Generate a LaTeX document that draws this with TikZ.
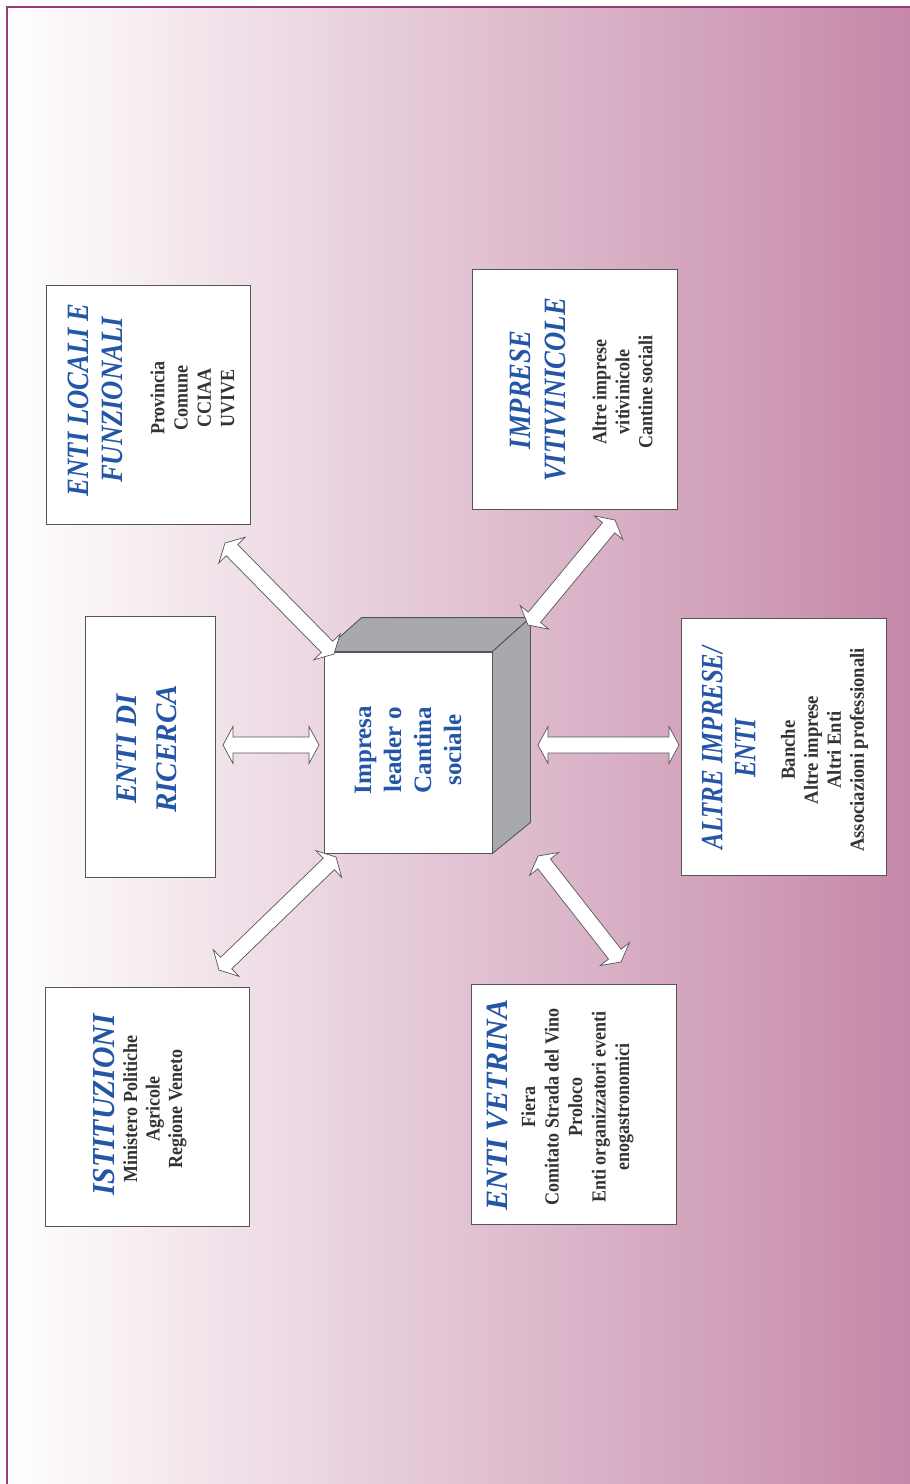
\documentclass[tikz,border=0pt]{standalone}
\usepackage{fontspec}
\setmainfont{Liberation Serif}
\newfontfamily\fA[FakeStretch=0.80]{Liberation Serif}
\newfontfamily\fB[FakeStretch=0.86]{Liberation Serif}
\newfontfamily\fC[FakeStretch=0.93]{Liberation Serif}
\newfontfamily\fD[FakeStretch=0.97]{Liberation Serif}
\newfontfamily\fE[FakeStretch=0.90]{Liberation Serif}
\usetikzlibrary{calc}
\definecolor{bgR}{HTML}{C588A8}
\definecolor{frameC}{HTML}{9B3B70}
\definecolor{titleB}{HTML}{2356A6}
\definecolor{bodyG}{HTML}{333333}
\definecolor{cubeG}{HTML}{A7A9AC}
\definecolor{edgeG}{HTML}{555555}
\tikzset{
  panel/.style={draw=edgeG, line width=0.9pt, fill=white, inner sep=0pt},
  ttl/.style={rotate=90, align=center, inner sep=0pt, text=titleB},
  bdy/.style={rotate=90, align=center, inner sep=0pt, text=bodyG},
  blockarrow/.style={draw=edgeG, fill=white, line width=0.7pt, line join=miter},
}
\newcommand{\dblarrow}[2]{%
  \coordinate (tmpA) at ($(#1)!10pt!(#2)$);
  \coordinate (tmpB) at ($(#2)!10pt!(#1)$);
  \draw[blockarrow] (#1) -- ($(tmpA)!18.5pt!90:(#2)$) -- ($(tmpA)!8pt!90:(#2)$)
    -- ($(tmpB)!8pt!-90:(#1)$) -- ($(tmpB)!18.5pt!-90:(#1)$) -- (#2)
    -- ($(tmpB)!18.5pt!90:(#1)$) -- ($(tmpB)!8pt!90:(#1)$)
    -- ($(tmpA)!8pt!-90:(#2)$) -- ($(tmpA)!18.5pt!-90:(#2)$) -- cycle;}
\begin{document}
\begin{tikzpicture}[x=1pt,y=-1pt]
\useasboundingbox (0,0) rectangle (910,1484);
\shade[left color=white, right color=bgR] (7,7) rectangle (910,1484);
\draw[frameC, line width=1.5pt] (7,1484) -- (7,7) -- (910,7);

% panels
\node (b1) [panel, minimum width=204pt, minimum height=239pt] at (148,404.5) {};
\node (b2) [panel, minimum width=130pt, minimum height=261pt] at (150,746.5) {};
\node (b3) [panel, minimum width=204pt, minimum height=239pt] at (147,1106.5) {};
\node (b4) [panel, minimum width=205pt, minimum height=240pt] at (574.5,389) {};
\node (b5) [panel, minimum width=205pt, minimum height=257pt] at (783.5,746.5) {};
\node (b6) [panel, minimum width=205pt, minimum height=240pt] at (573.5,1104) {};

% cube
\node (front) [panel, minimum width=168pt, minimum height=201pt] at (408,752.5) {};
\draw[draw=edgeG, line width=0.9pt, fill=cubeG] (front.north west) -- ($(front.north west)+(38,-34)$) -- ($(front.north east)+(38,-34)$) -- (front.north east) -- cycle;
\draw[draw=edgeG, line width=0.9pt, fill=cubeG] (front.north east) -- ($(front.north east)+(38,-34)$) -- ($(front.south east)+(38,-31)$) -- (front.south east) -- cycle;

% titles
\node (t1) [ttl, font=\fB\fontsize{31}{34}\selectfont\bfseries\itshape] at (95,400) {ENTI LOCALI E\\FUNZIONALI};
\node (t2) [ttl, font=\fD\fontsize{30}{40}\selectfont\bfseries\itshape] at (147,749) {ENTI DI\\RICERCA};
\node (t3) [ttl, font=\fC\fontsize{32}{34}\selectfont\bfseries\itshape] at (104,1105) {ISTITUZIONI};
\node (t4) [ttl, font=\fB\fontsize{31}{35}\selectfont\bfseries\itshape] at (537.5,390) {IMPRESE\\VITIVINICOLE};
\node (t5) [ttl, font=\fA\fontsize{31}{33}\selectfont\bfseries\itshape] at (728.5,748) {ALTRE IMPRESE/\\ENTI};
\node (t6) [ttl, font=\fD\fontsize{31}{34}\selectfont\bfseries\itshape] at (497.5,1105) {ENTI VETRINA};

% bodies
\node (d1) [bdy, font=\fE\fontsize{20}{23.3}\selectfont\bfseries] at (192.5,398) {Provincia\\Comune\\CCIAA\\UVIVE};
\node (d3) [bdy, font=\fE\fontsize{20}{22.5}\selectfont\bfseries] at (155,1109) {Ministero Politiche\\Agricole\\Regione Veneto};
\node (d4) [bdy, font=\fE\fontsize{20}{23}\selectfont\bfseries] at (622.5,392) {Altre imprese\\vitivinicole\\Cantine sociali};
\node (d5) [bdy, font=\fC\fontsize{20}{23}\selectfont\bfseries] at (824.5,750) {Banche\\Altre imprese\\Altri Enti\\Associazioni professionali};
\node (d6) [bdy, font=\fE\fontsize{20}{23.5}\selectfont\bfseries] at (577.5,1107) {Fiera\\Comitato Strada del Vino\\Proloco\\Enti organizzatori eventi\\enogastronomici};
\node (c0) [ttl, font=\fontsize{25}{30}\selectfont\bfseries] at (408,750) {Impresa\\leader o\\Cantina\\sociale};

% arrows
\coordinate (a1s) at (225,543); \coordinate (a1e) at (334,654);
\coordinate (a2s) at (223,745); \coordinate (a2e) at (319,745);
\coordinate (a3s) at (336,857); \coordinate (a3e) at (219,970);
\coordinate (a4s) at (615,520); \coordinate (a4e) at (528,625);
\coordinate (a5s) at (538,745); \coordinate (a5e) at (679,745);
\coordinate (a6s) at (538,856); \coordinate (a6e) at (621,962);
\dblarrow{a1s}{a1e}
\dblarrow{a2s}{a2e}
\dblarrow{a3s}{a3e}
\dblarrow{a4s}{a4e}
\dblarrow{a5s}{a5e}
\dblarrow{a6s}{a6e}
\end{tikzpicture}
\end{document}
